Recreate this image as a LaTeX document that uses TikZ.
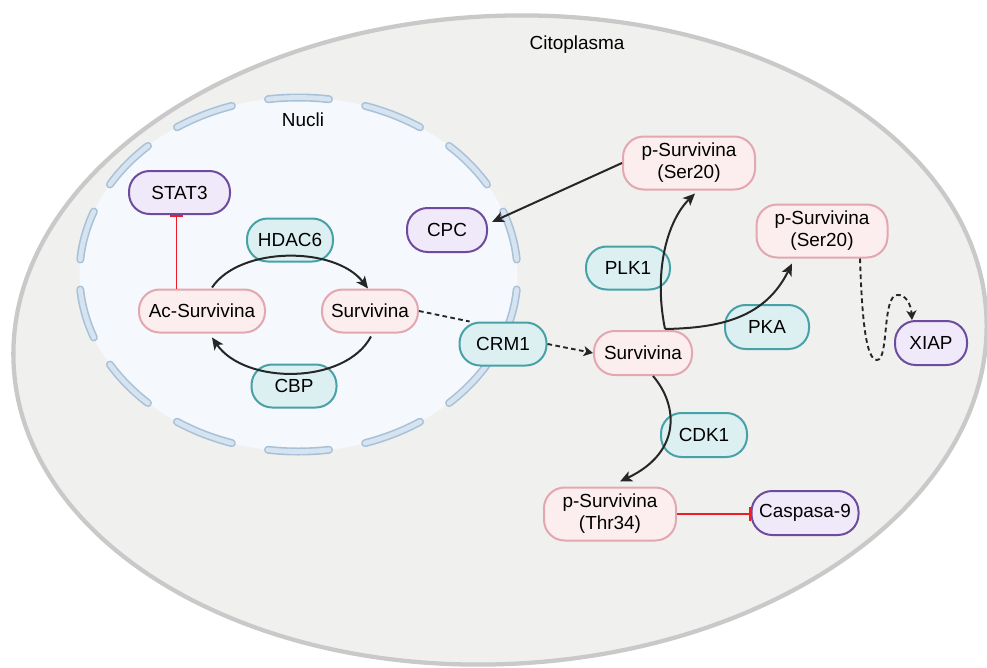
\documentclass[tikz,border=0pt]{standalone}
\usepackage{fontspec}
\setmainfont{Liberation Sans}
\usetikzlibrary{arrows.meta,calc}
\definecolor{cellfill}{HTML}{F0F1EF}
\definecolor{cellline}{HTML}{C9C9C9}
\definecolor{nucfill}{HTML}{F5F8FC}
\definecolor{memout}{HTML}{A9C1D7}
\definecolor{memin}{HTML}{D6E4F1}
\definecolor{pinkf}{HTML}{FCEEEF}
\definecolor{pinkd}{HTML}{E3A7B0}
\definecolor{tealf}{HTML}{DCF0F2}
\definecolor{teald}{HTML}{47A1A7}
\definecolor{purf}{HTML}{F0E9F9}
\definecolor{purd}{HTML}{6E4B9E}
\definecolor{inhred}{HTML}{EE1C25}
\definecolor{arr}{HTML}{262626}
\begin{document}
\begin{tikzpicture}[x=0.75pt,y=-0.75pt,
  txt/.style={font=\fontsize{14.2pt}{16.5pt}\selectfont, text=black},
  box/.style={txt, line width=1.5pt, rounded corners=15.5pt, inner sep=0pt, align=center},
  sz/.style 2 args={minimum width=#1*0.75pt, minimum height=#2*0.75pt},
  pinkbox/.style={box, fill=pinkf, draw=pinkd},
  tealbox/.style={box, fill=tealf, draw=teald},
  purbox/.style={box, fill=purf, draw=purd},
  act/.style={draw=arr, line width=1.5pt, -{Stealth[length=9pt,width=8pt,inset=2.2pt]}},
  dsh/.style={draw=arr, line width=1.4pt, dash pattern=on 3.5pt off 2.5pt},
  dtip/.style={-{Stealth[length=7pt,width=7.5pt,inset=1.8pt]}},
  inh/.style={draw=inhred, line width=1.2pt, -{Bar[width=10pt]}}
]
\useasboundingbox (0,0) rectangle (987,667);
\clip (0,0) rectangle (987,667);
\fill[white] (0,0) rectangle (987,667);

% cell
\draw[draw=cellline, fill=cellfill, line width=3.2pt, rotate around={3:(500,340)}]
  (500,340) ellipse [x radius=487, y radius=324];
\node[txt] (cito) at (577,45) {Citoplasma};

% nucleus
\fill[nucfill] (298.5,274.5) ellipse [x radius=219, y radius=177];
\foreach \i in {0,...,13}{
  \pgfmathsetmacro\ta{90+\i*360/14-8}
  \pgfmathsetmacro\tb{90+\i*360/14+8}
  \draw[memout, line width=6pt, line cap=round]
    (298.5,274.5) ++(\ta:219 and 177) arc[start angle=\ta, end angle=\tb, x radius=219, y radius=177];
}
\foreach \i in {0,...,13}{
  \pgfmathsetmacro\ta{90+\i*360/14-8}
  \pgfmathsetmacro\tb{90+\i*360/14+8}
  \draw[memin, line width=3.6pt, line cap=round]
    (298.5,274.5) ++(\ta:219 and 177) arc[start angle=\ta, end angle=\tb, x radius=219, y radius=177];
}
\node[txt] (nucli) at (303,120) {Nucli};

% nodes
\node[purbox, sz={101}{43}] (stat) at (179.5,192.5) {STAT3};
\node[purbox, sz={80}{44}] (cpc) at (447,230) {CPC};
\node[tealbox, sz={86}{43}] (hdac) at (290,240) {HDAC6};
\node[pinkbox, sz={126}{43}] (acs) at (202,311) {Ac-Survivina};
\node[pinkbox, sz={96}{43}] (nsurv) at (370,311) {Survivina};
\node[tealbox, sz={85}{43}] (cbp) at (294,386) {CBP};
\node[tealbox, sz={87}{43}] (crm) at (503,344) {CRM1};
\node[pinkbox, sz={132}{53}] (ps1) at (689,163) {p-Survivina\\(Ser20)};
\node[pinkbox, sz={131}{53}] (ps2) at (822,231) {p-Survivina\\(Ser20)};
\node[tealbox, sz={84}{43}] (plk) at (628,268) {PLK1};
\node[tealbox, sz={84}{44}] (pka) at (767,327) {PKA};
\node[purbox, sz={72}{44}] (xiap) at (931,343) {XIAP};
\node[pinkbox, sz={98}{44}] (csurv) at (643,353) {Survivina};
\node[tealbox, sz={86}{44}] (cdk) at (704,435) {CDK1};
\node[pinkbox, sz={132}{53}] (pthr) at (610,514) {p-Survivina\\(Thr34)};
\node[purbox, sz={107}{44}] (casp) at (805,513) {Caspasa-9};

% helper coordinates
\coordinate (t1) at ($(stat.south)+(-3,0)$);
\coordinate (j) at ($(csurv.north)+(22,-1)$);

% connectors
\draw[inh] (acs.north -| t1) -- (t1);
\draw[act] ($(acs.north)+(10,-1)$) .. controls (240,246) and (335,246) .. ($(nsurv.north)+(-2,0)$);
\draw[act] ($(nsurv.south)+(1,3)$) .. controls (345,385) and (245,385) .. ($(acs.south)+(10,4)$);
\draw[dsh] (nsurv.east) -- (crm.146);
\draw[dsh, dtip] (crm.east) -- (csurv.west);
\draw[act] (ps1.west) -- ($(cpc.east)+(4,-8)$);
\draw[act] (j) .. controls (653,270) and (668,220) .. ($(ps1.south)+(6,3)$);
\draw[act] (j) .. controls (720,328) and (765,318) .. ($(ps2.south)+(-30,5)$);
\draw[dsh, dtip] ($(ps2.south)+(38,0)$)
  .. controls (862,320) and (866,360) .. (877,360)
  .. controls (889,360) and (882,296) .. (897,295)
  .. controls (906,294) and (911,305) .. ($(xiap.north)+(-19,0)$);
\draw[act] ($(csurv.south)+(10,0)$) .. controls (678,405) and (682,452) .. ($(pthr.north)+(10,-5)$);
\draw[inh] (pthr.east) -- (pthr.east -| casp.west);
\end{tikzpicture}
\end{document}
